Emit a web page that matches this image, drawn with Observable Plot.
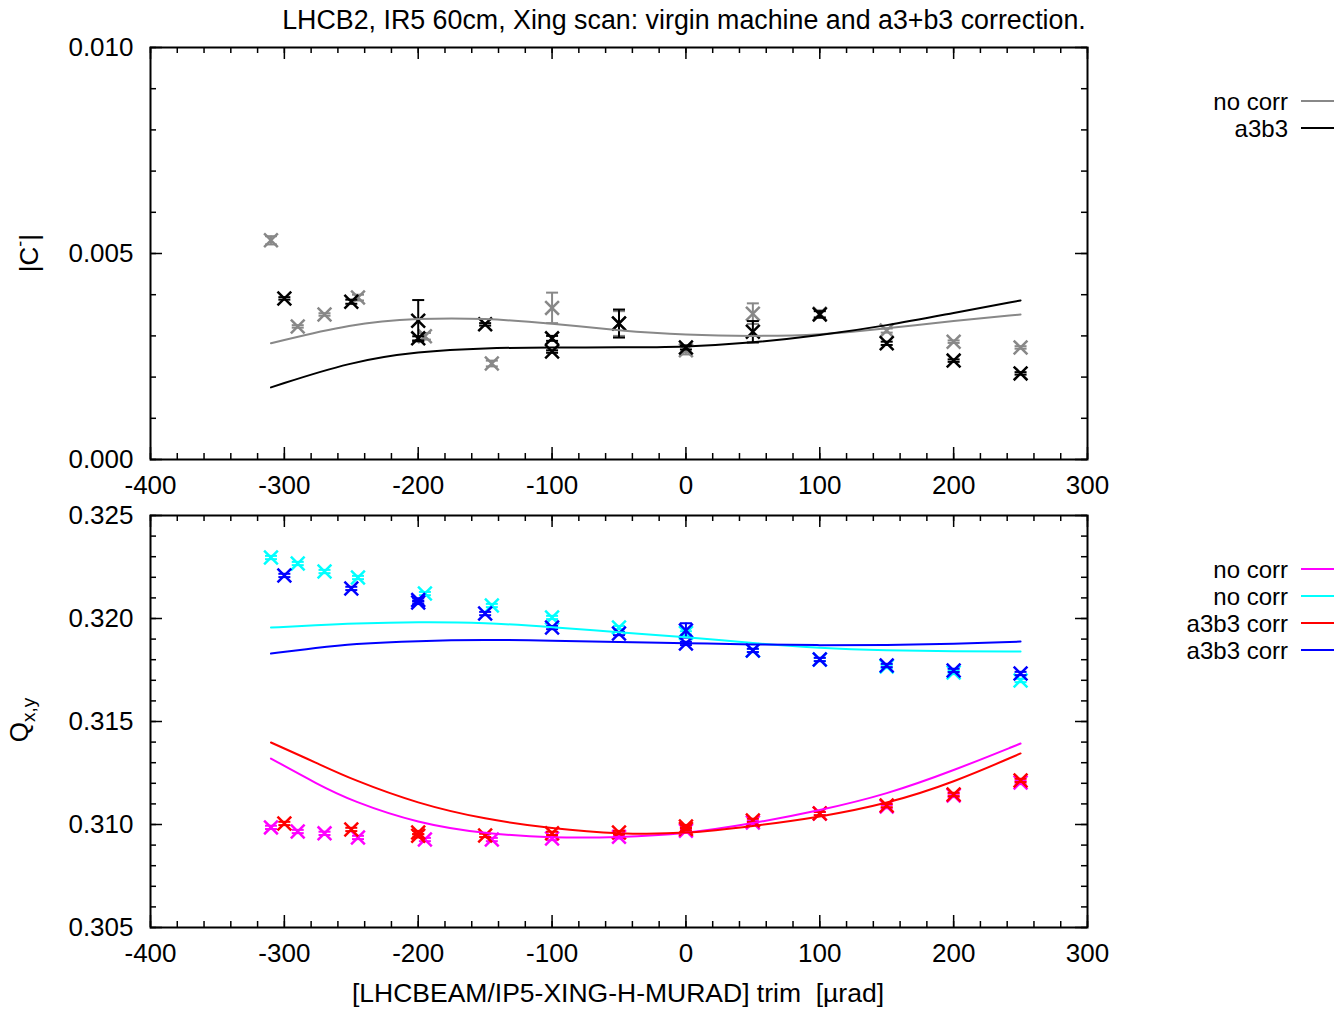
<!DOCTYPE html>
<html><head><meta charset="utf-8">
<script src="https://cdn.jsdelivr.net/npm/d3@7"></script>
<script src="https://cdn.jsdelivr.net/npm/@observablehq/plot@0.6"></script>
<style>
body{margin:0;background:#fff;}
#wrap{position:relative;width:1334px;height:1009px;font-family:"Liberation Sans",Arial,sans-serif;background:#fff;}
#wrap > div, #wrap > svg{position:absolute;left:0;}
</style></head><body><div id="wrap"></div>
<script>
// ---------- tick labels ----------
const xMajor = [-400, -300, -200, -100, 0, 100, 200, 300];
const topYMajor = [0.000, 0.005, 0.010];
const botYMajor = [0.305, 0.310, 0.315, 0.320, 0.325];

// ---------- top panel: |C-| ----------
const cNoCorrX   = [-310, -290, -270, -245, -195, -145, -100, -50, 0, 50, 100, 150, 200, 250];
const cNoCorrY   = [0.00532, 0.00323, 0.00352, 0.00393, 0.00299, 0.00233, 0.00368, 0.00330, 0.00265, 0.00354, 0.00354, 0.00313, 0.00286, 0.00272];
const cNoCorrErr = [0.00010, 0.00003, 0.00003, 0.00007, 0.00008, 0.00007, 0.00037, 0.00030, 0.00010, 0.00025, 0.00008, 0.00005, 0.00003, 0.00003];

const cA3b3X   = [-300, -250, -200, -200, -150, -100, -100, -50, 0, 50, 100, 150, 200, 250];
const cA3b3Y   = [0.00391, 0.00383, 0.00337, 0.00294, 0.00328, 0.00294, 0.00262, 0.00330, 0.00272, 0.00310, 0.00352, 0.00282, 0.00240, 0.00209];
const cA3b3Err = [0.00003, 0.00005, 0.00050, 0.00005, 0.00003, 0.00006, 0.00003, 0.00034, 0.00005, 0.00026, 0.00008, 0.00004, 0.00003, 0.00003];

const cFitX      = [-310, -250, -200, -150, -100, -50, 0, 50, 100, 150, 200, 250];
const cFitNoCorr = [0.00282, 0.00330, 0.00343, 0.00343, 0.00330, 0.00313, 0.00302, 0.00299, 0.00302, 0.00318, 0.00337, 0.00352];
const cFitA3b3   = [0.00175, 0.00238, 0.00262, 0.00271, 0.00272, 0.00272, 0.00273, 0.00283, 0.00301, 0.00325, 0.00356, 0.00386];

// ---------- bottom panel: Qx,y ----------
const qNoCorrX  = [-310, -290, -270, -245, -195, -145, -100, -50, 0, 50, 100, 150, 200, 250];
const qxNoCorr  = [0.30986, 0.30966, 0.30957, 0.30937, 0.30927, 0.30927, 0.30932, 0.30940, 0.30970, 0.31010, 0.31053, 0.31087, 0.31141, 0.31204];
const qyNoCorr  = [0.32296, 0.32267, 0.32228, 0.32199, 0.32121, 0.32063, 0.32005, 0.31956, 0.31930, 0.31845, 0.31801, 0.31767, 0.31738, 0.31699];
const qNoCorrErr= [0.00008, 0.00008, 0.00008, 0.00008, 0.00008, 0.00008, 0.00008, 0.00008, 0.00008, 0.00008, 0.00008, 0.00008, 0.00008, 0.00008];

const qA3b3X    = [-300, -250, -200, -200, -150, -100, -50, 0, 0, 50, 100, 150, 200, 250];
const qxA3b3    = [0.31005, 0.30976, 0.30961, 0.30945, 0.30947, 0.30957, 0.30961, 0.30990, 0.30978, 0.31020, 0.31053, 0.31092, 0.31146, 0.31214];
const qyA3b3    = [0.32209, 0.32146, 0.32078, 0.32090, 0.32024, 0.31956, 0.31927, 0.31942, 0.31879, 0.31845, 0.31801, 0.31772, 0.31748, 0.31733];
const qxA3b3Err = [0.00008, 0.00008, 0.00008, 0.00008, 0.00008, 0.00008, 0.00008, 0.00008, 0.00008, 0.00008, 0.00008, 0.00008, 0.00008, 0.00008];
const qyA3b3Err = [0.00008, 0.00008, 0.00008, 0.00008, 0.00008, 0.00008, 0.00008, 0.00035, 0.00008, 0.00008, 0.00008, 0.00008, 0.00008, 0.00008];

const qFitX       = [-310, -275, -250, -200, -150, -100, -50, 0, 50, 100, 150, 200, 250];
const qxFitNoCorr = [0.31320, 0.31195, 0.31115, 0.31005, 0.30955, 0.30935, 0.30937, 0.30955, 0.31005, 0.31068, 0.31146, 0.31262, 0.31393];
const qxFitA3b3   = [0.31398, 0.31296, 0.31220, 0.31100, 0.31025, 0.30980, 0.30953, 0.30955, 0.30992, 0.31036, 0.31100, 0.31204, 0.31345];
const qyFitNoCorr = [0.31956, 0.31968, 0.31976, 0.31984, 0.31980, 0.31958, 0.31933, 0.31910, 0.31880, 0.31856, 0.31845, 0.31840, 0.31840];
const qyFitA3b3   = [0.31830, 0.31858, 0.31876, 0.31892, 0.31897, 0.31893, 0.31886, 0.31880, 0.31874, 0.31870, 0.31870, 0.31877, 0.31888];

// ---------- helpers ----------
const zipPts = (xs, ys, es) => xs.map((x, i) => ({x, y: ys[i], e: es[i]}));
const zipLine = (xs, ys) => xs.map((x, i) => ({x, y: ys[i]}));
const capSymbol = {draw(ctx, size) { const w = Math.sqrt(size / Math.PI); ctx.moveTo(-w, 0); ctx.lineTo(w, 0); }};
const FONT = "Liberation Sans, Arial, sans-serif";
const FW = 937, FH = 412;
const xMinor = d3.range(-400, 301, 20);

function panel(cfg) {
  const marks = [];
  for (const s of cfg.series) {
    marks.push(Plot.ruleX(s.data, {x: "x", y1: d => d.y - d.e, y2: d => d.y + d.e, stroke: s.color, strokeWidth: 2}));
    marks.push(Plot.dot(s.data, {x: "x", y: d => d.y - d.e, symbol: capSymbol, r: 6, stroke: s.color, fill: "none", strokeWidth: 2}));
    marks.push(Plot.dot(s.data, {x: "x", y: d => d.y + d.e, symbol: capSymbol, r: 6, stroke: s.color, fill: "none", strokeWidth: 2}));
    marks.push(Plot.dot(s.data, {x: "x", y: "y", symbol: "times", r: 6.3, stroke: s.color, fill: "none", strokeWidth: 2.5}));
  }
  for (const f of cfg.fits) {
    marks.push(Plot.line(f.data, {x: "x", y: "y", stroke: f.color, strokeWidth: 2, curve: "basis"}));
  }
  // inward ticks (gnuplot style)
  marks.push(
    Plot.tickX(xMinor, {x: d => d, insetTop: FH - 6, stroke: "black", strokeWidth: 1.5}),
    Plot.tickX(xMinor, {x: d => d, insetBottom: FH - 6, stroke: "black", strokeWidth: 1.5}),
    Plot.tickX(xMajor, {x: d => d, insetTop: FH - 12, stroke: "black", strokeWidth: 1.5}),
    Plot.tickX(xMajor, {x: d => d, insetBottom: FH - 12, stroke: "black", strokeWidth: 1.5}),
    Plot.tickY(cfg.yMinor, {y: d => d, insetRight: FW - 6, stroke: "black", strokeWidth: 1.5}),
    Plot.tickY(cfg.yMinor, {y: d => d, insetLeft: FW - 6, stroke: "black", strokeWidth: 1.5}),
    Plot.tickY(cfg.yMajor, {y: d => d, insetRight: FW - 12, stroke: "black", strokeWidth: 1.5}),
    Plot.tickY(cfg.yMajor, {y: d => d, insetLeft: FW - 12, stroke: "black", strokeWidth: 1.5}),
    Plot.frame({stroke: "black", strokeWidth: 2}),
    Plot.axisX({ticks: xMajor, tickSize: 0, tickPadding: 16, tickFormat: d => String(d), label: null, fontSize: 26, fill: "black"}),
    Plot.axisY({ticks: cfg.yMajor, tickSize: 0, tickPadding: 17, tickFormat: d3.format(".3f"), label: null, fontSize: 26, fill: "black"})
  );
  return Plot.plot({
    width: 1334, height: cfg.height,
    marginLeft: 150, marginRight: 247, marginTop: cfg.mt, marginBottom: cfg.mb,
    x: {domain: [-400, 300]},
    y: {domain: cfg.yDomain},
    style: {fontFamily: FONT, fontSize: "26px", color: "black", background: "transparent", overflow: "visible"},
    marks
  });
}

const wrap = document.getElementById("wrap");

const topChart = panel({
  height: 500, mt: 47, mb: 41,
  yDomain: [0, 0.010],
  yMajor: topYMajor,
  yMinor: d3.range(0, 11).map(i => i / 1000),
  series: [
    {color: "#888888", data: zipPts(cNoCorrX, cNoCorrY, cNoCorrErr)},
    {color: "#000000", data: zipPts(cA3b3X, cA3b3Y, cA3b3Err)}
  ],
  fits: [
    {color: "#888888", data: zipLine(cFitX, cFitNoCorr)},
    {color: "#000000", data: zipLine(cFitX, cFitA3b3)}
  ]
});
const d1 = document.createElement("div"); d1.style.top = "0px"; d1.appendChild(topChart); wrap.appendChild(d1);

const botChart = panel({
  height: 509, mt: 15, mb: 82,
  yDomain: [0.305, 0.325],
  yMajor: botYMajor,
  yMinor: d3.range(305, 326).map(i => i / 1000),
  series: [
    {color: "#ff00ff", data: zipPts(qNoCorrX, qxNoCorr, qNoCorrErr)},
    {color: "#00ffff", data: zipPts(qNoCorrX, qyNoCorr, qNoCorrErr)},
    {color: "#ff0000", data: zipPts(qA3b3X, qxA3b3, qxA3b3Err)},
    {color: "#0000ff", data: zipPts(qA3b3X, qyA3b3, qyA3b3Err)}
  ],
  fits: [
    {color: "#ff00ff", data: zipLine(qFitX, qxFitNoCorr)},
    {color: "#00ffff", data: zipLine(qFitX, qyFitNoCorr)},
    {color: "#ff0000", data: zipLine(qFitX, qxFitA3b3)},
    {color: "#0000ff", data: zipLine(qFitX, qyFitA3b3)}
  ]
});
const d2 = document.createElement("div"); d2.style.top = "500px"; d2.appendChild(botChart); wrap.appendChild(d2);

// ---------- text overlay: title, axis labels, legends ----------
const ov = d3.select(wrap).append("svg")
  .attr("width", 1334).attr("height", 1009)
  .style("top", "0px").style("pointer-events", "none")
  .attr("font-family", FONT).attr("font-size", 26).attr("fill", "black");

ov.append("text").attr("x", 684).attr("y", 29).attr("text-anchor", "middle").attr("font-size", 26.8)
  .text("LHCB2, IR5 60cm, Xing scan: virgin machine and a3+b3 correction.");

ov.append("text").attr("x", 618).attr("y", 1002).attr("text-anchor", "middle").attr("font-size", 26.5)
  .style("white-space", "pre")
  .text("[LHCBEAM/IP5-XING-H-MURAD] trim  [\u00b5rad]");

const yl1 = ov.append("text").attr("transform", "translate(38,253) rotate(-90)").attr("text-anchor", "middle");
yl1.append("tspan").text("|C");
yl1.append("tspan").attr("dy", -12).attr("font-size", 18).text("-");
yl1.append("tspan").attr("dy", 12).text("|");

const yl2 = ov.append("text").attr("transform", "translate(28,720) rotate(-90)").attr("text-anchor", "middle");
yl2.append("tspan").text("Q");
yl2.append("tspan").attr("dy", 7).attr("font-size", 19).text("x,y");

const legendTop = [
  {label: "no corr", color: "#888888"},
  {label: "a3b3", color: "#000000"}
];
const legendBot = [
  {label: "no corr", color: "#ff00ff"},
  {label: "no corr", color: "#00ffff"},
  {label: "a3b3 corr", color: "#ff0000"},
  {label: "a3b3 corr", color: "#0000ff"}
];
function legend(items, y0) {
  items.forEach((it, i) => {
    const y = y0 + i * 27;
    ov.append("text").attr("x", 1288).attr("y", y + 8.5).attr("text-anchor", "end").attr("font-size", 24).text(it.label);
    ov.append("line").attr("x1", 1301).attr("x2", 1334).attr("y1", y).attr("y2", y)
      .attr("stroke", it.color).attr("stroke-width", 2);
  });
}
legend(legendTop, 101);
legend(legendBot, 569);
</script></body></html>
